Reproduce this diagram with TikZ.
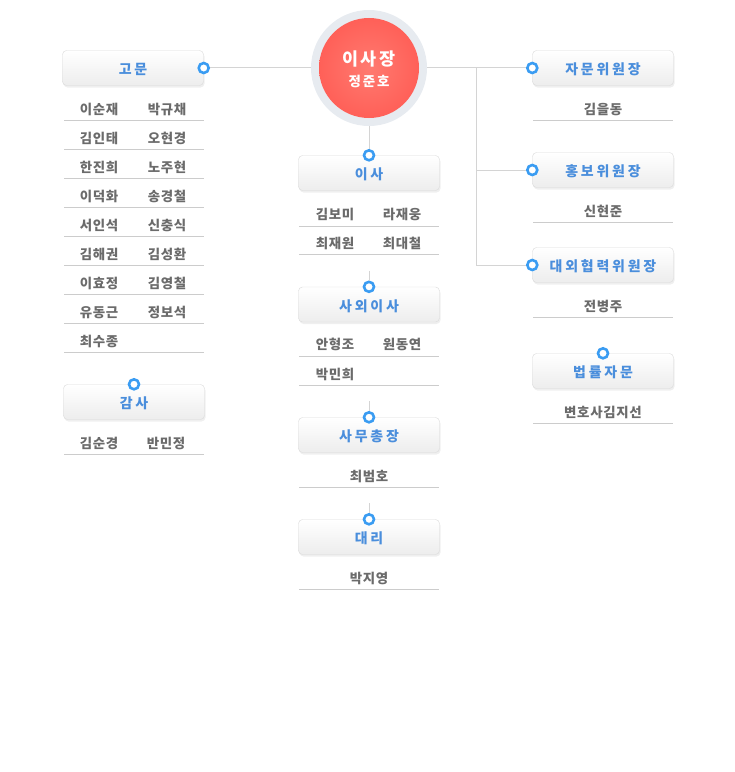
\documentclass[tikz,border=0pt]{standalone}
\usepackage{fontspec}
\setmainfont{Noto Sans CJK KR}
\newfontfamily\titlefont{Noto Sans CJK KR}[LetterSpace=20]
\newfontfamily\bossfont{Noto Sans CJK KR}[LetterSpace=14]
\newfontfamily\memberfont{Noto Sans CJK KR}[LetterSpace=5]
\usetikzlibrary{positioning,calc,shadows}
\definecolor{titleblue}{HTML}{4A8EDC}
\definecolor{dotblue}{HTML}{3A9CF2}
\definecolor{namegrey}{HTML}{6B6B6B}
\definecolor{linegrey}{HTML}{D4D4D4}
\definecolor{rulegrey}{HTML}{CCCCCC}
\definecolor{boxline}{HTML}{DADADA}
\definecolor{boxbottom}{HTML}{EDEDED}
\definecolor{ringgrey}{HTML}{E7EBF0}
\definecolor{bossred}{HTML}{FF6058}
\definecolor{bosslight}{HTML}{FF7A70}

\begin{document}
\begin{tikzpicture}[x=1bp,y=-1bp,
    title/.style={draw=boxline,rounded corners=4bp,top color=white,bottom color=boxbottom,
      minimum width=141bp,minimum height=35bp,inner sep=0pt,text=titleblue,
      text height=13.5bp,text depth=0bp,
      font=\titlefont\bfseries\fontsize{14}{16}\selectfont,
      drop shadow={shadow xshift=1bp,shadow yshift=-2bp,opacity=0.13}},
    dot/.style={circle,draw=dotblue,line width=2.6bp,fill=white,minimum size=10bp,inner sep=0pt},
    member/.style={text=namegrey,inner sep=0pt,text height=12.5bp,text depth=0bp,
      font=\memberfont\bfseries\fontsize{13.5}{16}\selectfont},
    wire/.style={draw=linegrey,line width=1bp},
    rule/.style={draw=rulegrey,line width=1bp}]
  \useasboundingbox (0,0) rectangle (735,772);

  % chairman
  \node[circle,fill=ringgrey,minimum size=116bp,inner sep=0pt] (ring) at (369,68) {};
  \node[circle,inner color=bosslight,outer color=bossred,minimum size=100bp,inner sep=0pt] (boss) at (369,68) {};
  \node[text=white,font=\bossfont\bfseries\fontsize{17.5}{19}\selectfont] (bosst) at (369,59) {이사장};
  \node[text=white,font=\bossfont\bfseries\fontsize{13.5}{15}\selectfont] (bossn) at (369,81) {정준호};

  % boxes
  \node[title] (adv) at (133,68) {고문};
  \node[title] (audit) at (134,402) {감사};
  \node[title] (dir) at (369,173) {이사};
  \node[title] (odir) at (369,304.5) {사외이사};
  \node[title] (sec) at (369,435) {사무총장};
  \node[title] (dep) at (369,537) {대리};
  \node[title] (consult) at (603,68) {자문위원장};
  \node[title] (pr) at (603,170) {홍보위원장};
  \node[title] (ext) at (603,265) {대외협력위원장};
  \node[title] (legal) at (603,371) {법률자문};

  % dots
  \node[dot] (advdot) at (adv.east) {};
  \node[dot] (auditdot) at (audit.north) {};
  \node[dot] (dirdot) at (dir.north) {};
  \node[dot] (odirdot) at (odir.north) {};
  \node[dot] (secdot) at (sec.north) {};
  \node[dot] (depdot) at (dep.north) {};
  \node[dot] (consultdot) at (consult.west) {};
  \node[dot] (prdot) at (pr.west) {};
  \node[dot] (extdot) at (ext.west) {};
  \node[dot] (legaldot) at (legal.north) {};

  % connectors
  \coordinate (fork) at (476,68);
  \draw[wire] (advdot) -- (ring);
  \draw[wire] (ring) -- (consultdot);
  \draw[wire] (fork) |- (prdot);
  \draw[wire] (fork) |- (extdot);
  \draw[wire] (ring) -- (dirdot);
  \coordinate (odirstub) at ($(odirdot)+(0,-16)$);
  \coordinate (secstub) at ($(secdot)+(0,-16)$);
  \coordinate (depstub) at ($(depdot)+(0,-16)$);
  \draw[wire] (odirstub) -- (odirdot);
  \draw[wire] (secstub) -- (secdot);
  \draw[wire] (depstub) -- (depdot);

  % members of adv
  \foreach \l/\r [count=\i from 0] in {이순재/박규채,김인태/오현경,한진희/노주현,이덕화/송경철,
      서인석/신충식,김해권/김성환,이효정/김영철,유동근/정보석}{
    \node[member] (advl\i) at (99,108+29*\i) {\l};
    \node[member] (advr\i) at (167,108+29*\i) {\r};
    \draw[rule] (64,120.5+29*\i) -- (204,120.5+29*\i);
  }
  \node[member] (advl8) at (99,340) {최수종};
  \draw[rule] (64,352.5) -- (204,352.5);

  % members of audit
  \node[member] (auditl) at (99,442) {김순경};
  \node[member] (auditr) at (166,442) {반민정};
  \draw[rule] (64,454.5) -- (204,454.5);

  % members of dir
  \node[member] (dirl0) at (335,213) {김보미};
  \node[member] (dirr0) at (402,213) {라재웅};
  \draw[rule] (299,226) -- (439,226);
  \node[member] (dirl1) at (335,242) {최재원};
  \node[member] (dirr1) at (402,242) {최대철};
  \draw[rule] (299,254.5) -- (439,254.5);

  % members of odir
  \node[member] (odirl0) at (335,343.5) {안형조};
  \node[member] (odirr0) at (402,343.5) {원동연};
  \draw[rule] (299,356) -- (439,356);
  \node[member] (odirl1) at (335,373) {박민희};
  \draw[rule] (299,385.5) -- (439,385.5);

  % single members
  \node[member] (secm) at (369,475) {최범호};
  \draw[rule] (299,487.5) -- (439,487.5);
  \node[member] (depm) at (369,577) {박지영};
  \draw[rule] (299,589.5) -- (439,589.5);
  \node[member] (consultm) at (603,108) {김을동};
  \draw[rule] (533,120.5) -- (673,120.5);
  \node[member] (prm) at (603,210) {신현준};
  \draw[rule] (533,222.5) -- (673,222.5);
  \node[member] (extm) at (603,305) {전병주};
  \draw[rule] (533,317.5) -- (673,317.5);
  \node[member] (legalm) at (603,411) {변호사김지선};
  \draw[rule] (533,423.5) -- (673,423.5);
\end{tikzpicture}
\end{document}
